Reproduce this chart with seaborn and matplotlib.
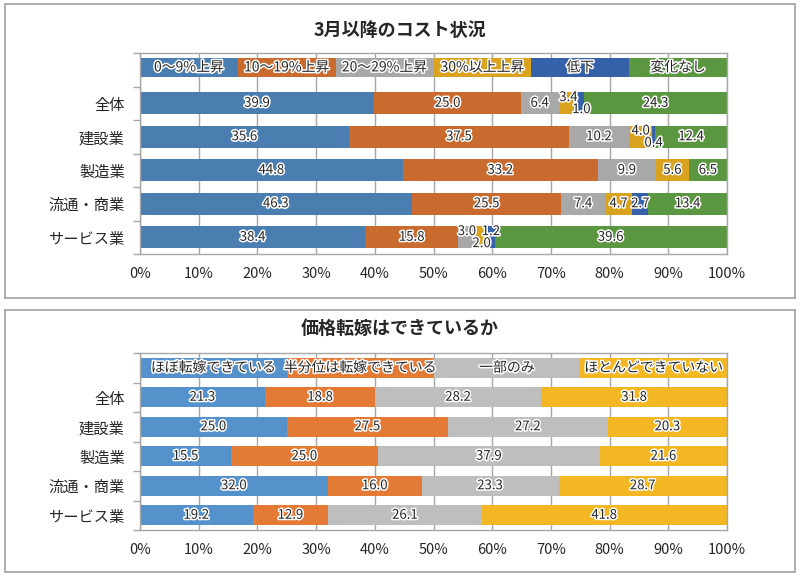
import pandas as pd
import numpy as np
import matplotlib
matplotlib.use('Agg')
import matplotlib.pyplot as plt
import matplotlib.patheffects as pe
from matplotlib.patches import Rectangle
import seaborn as sns

# --- data ---
industries = ['全体', '建設業', '製造業', '流通・商業', 'サービス業']

cost_title = '3月以降のコスト状況'
cost_labels = ['0〜9%上昇', '10〜19%上昇', '20〜29%上昇', '30%以上上昇', '低下', '変化なし']
cost_0_9 = [39.9, 35.6, 44.8, 46.3, 38.4]
cost_10_19 = [25.0, 37.5, 33.2, 25.5, 15.8]
cost_20_29 = [6.4, 10.2, 9.9, 7.4, 3.0]
cost_30_up = [3.4, 4.0, 5.6, 4.7, 2.0]
cost_down = [1.0, 0.4, 0.0, 2.7, 1.2]
cost_same = [24.3, 12.4, 6.5, 13.4, 39.6]
cost_colors = ['#4A7EB1', '#C96A2E', '#A8A8A8', '#D9A21F', '#3461A8', '#5B9641']

pass_title = '価格転嫁はできているか'
pass_labels = ['ほぼ転嫁できている', '半分位は転嫁できている', '一部のみ', 'ほとんどできていない']
pass_mostly = [21.3, 25.0, 15.5, 32.0, 19.2]
pass_half = [18.8, 27.5, 25.0, 16.0, 12.9]
pass_part = [28.2, 27.2, 37.9, 23.3, 26.1]
pass_none = [31.8, 20.3, 21.6, 28.7, 41.8]
pass_colors = ['#5592CB', '#E37A36', '#BEBEBE', '#F2B722']

sns.set_style('white')
plt.rcParams['font.family'] = ['Noto Sans CJK JP', 'DejaVu Sans']

GRID = '#A6A6A6'
halo = [pe.withStroke(linewidth=2.2, foreground='white')]


def draw_panel(ax, series, labels, colors, bar_h, leg_y, leg_h):
    df = pd.DataFrame(dict(zip(labels, series)), index=industries)
    cum = df.cumsum(axis=1)

    # stacked bars: draw cumulative totals from the right end back to the left
    for i in reversed(range(len(labels))):
        d = pd.DataFrame({'industry': industries, 'v': cum[labels[i]].values})
        sns.barplot(data=d, x='v', y='industry', orient='h', color=colors[i],
                    saturation=1, width=bar_h, errorbar=None, linewidth=0, ax=ax)

    # legend row drawn as a full-width strip across the top row
    n = len(labels)
    seg = 100 / n
    ax.barh([leg_y] * n, [seg] * n, left=[k * seg for k in range(n)],
            height=leg_h, color=colors, linewidth=0)
    for k, lab in enumerate(labels):
        ax.text(k * seg + seg / 2, leg_y, lab, ha='center', va='center',
                fontsize=10, color='#262626', path_effects=halo)

    # value labels; consecutive thin segments get staggered up/down
    for r, ind in enumerate(industries):
        vals = df.loc[ind].values
        ends = cum.loc[ind].values
        flip = 0
        for c in range(n):
            v = vals[c]
            if v <= 0:
                continue
            small = v < 4.5
            prev_small = c > 0 and 0 < vals[c - 1] < 4.5
            next_small = c < n - 1 and 0 < vals[c + 1] < 4.5
            dy = 0
            if small and (prev_small or next_small):
                dy = -0.17 if flip % 2 == 0 else 0.19
                flip += 1
            else:
                flip = 0
            ax.text(ends[c] - v / 2, r + dy, f'{v:.1f}', ha='center', va='center',
                    fontsize=9.5, color='#262626', path_effects=halo)

    ax.set_xlim(0, 100)
    ax.set_ylim(len(industries) - 0.5, -1.5)
    ax.set_xticks(range(0, 101, 10))
    ax.set_xticklabels([f'{t}%' for t in range(0, 101, 10)], fontsize=10.5)
    ax.xaxis.grid(True, color=GRID, linewidth=1)
    ax.set_axisbelow(True)
    ax.set_yticks(range(len(industries)))
    ax.set_yticklabels(industries, fontsize=11)
    ax.set_yticks(np.arange(-1.5, len(industries), 1), minor=True)
    ax.tick_params(axis='y', which='major', length=0, pad=11, colors='#262626')
    ax.tick_params(axis='y', which='minor', length=5, width=1, color=GRID, direction='out', left=True)
    ax.tick_params(axis='x', length=0, pad=9, colors='#262626')
    ax.set_xlabel('')
    ax.set_ylabel('')
    for s in ax.spines.values():
        s.set_color(GRID)
        s.set_linewidth(1)
        s.set_visible(True)


fig = plt.figure(figsize=(8, 5.76), dpi=100)
W, H = 800, 576


def fr(x0, y0, x1, y1):
    return [x0 / W, 1 - y1 / H, (x1 - x0) / W, (y1 - y0) / H]


# panel frames
for (x0, y0, x1, y1) in [(5, 4, 795, 298), (5, 310, 795, 572)]:
    fig.patches.append(Rectangle((x0 / W, 1 - y1 / H), (x1 - x0) / W, (y1 - y0) / H,
                                 transform=fig.transFigure, fill=False,
                                 edgecolor='#A0A0A0', linewidth=1.2))

ax1 = fig.add_axes(fr(140, 53, 727, 254))
draw_panel(ax1, [cost_0_9, cost_10_19, cost_20_29, cost_30_up, cost_down, cost_same],
           cost_labels, cost_colors, bar_h=0.66, leg_y=-1.07, leg_h=0.58)
fig.text(0.5, 1 - 30 / H, cost_title, ha='center', va='center', fontsize=13, fontweight='bold')

ax2 = fig.add_axes(fr(140, 353, 727, 530))
draw_panel(ax2, [pass_mostly, pass_half, pass_part, pass_none],
           pass_labels, pass_colors, bar_h=0.68, leg_y=-1.0, leg_h=0.68)
fig.text(0.5, 1 - 328 / H, pass_title, ha='center', va='center', fontsize=13, fontweight='bold')

fig.savefig('out.png', dpi=100)
plt.close(fig)
